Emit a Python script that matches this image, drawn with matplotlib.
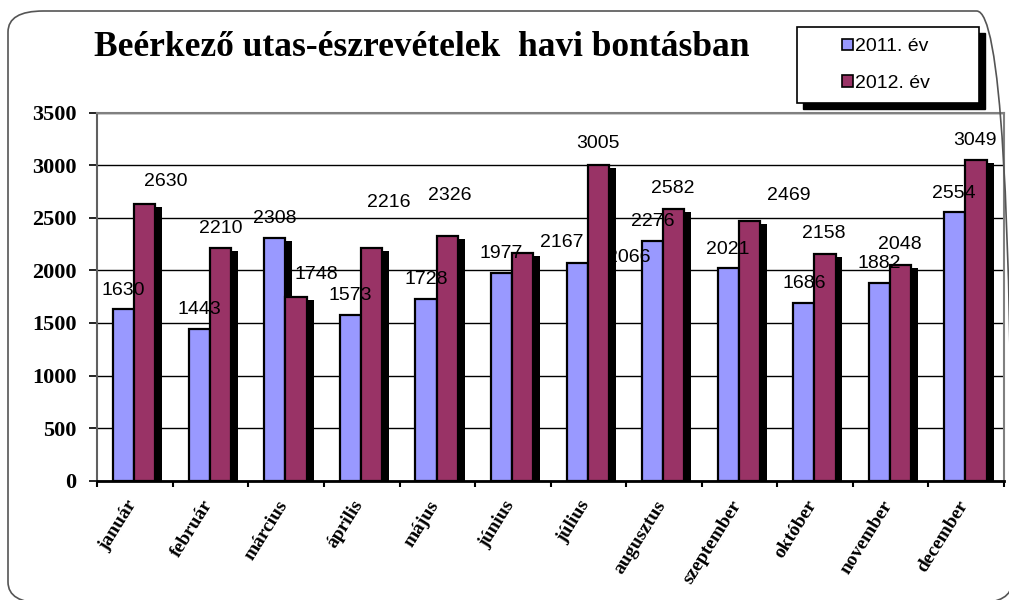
import matplotlib
matplotlib.use("Agg")
import matplotlib.pyplot as plt
import matplotlib.patheffects as pe
from matplotlib.patches import FancyBboxPatch, Rectangle
from matplotlib.transforms import ScaledTranslation
import numpy as np

# ---- data ----
months = ["január", "február", "március", "április", "május", "június",
          "július", "augusztus", "szeptember", "október", "november", "december"]
v2011 = [1630, 1443, 2308, 1573, 1728, 1977, 2066, 2276, 2021, 1686, 1882, 2554]
v2012 = [2630, 2210, 1748, 2216, 2326, 2167, 3005, 2582, 2469, 2158, 2048, 3049]
series_names = ["2011. év", "2012. év"]
title = "Beérkező utas-észrevételek  havi bontásban"
yticks = [0, 500, 1000, 1500, 2000, 2500, 3000, 3500]

# ---- label offsets (pixels, relative to bar top centre) ----
off2011 = [(0, 19), (0, 19), (0, 20), (0, 20), (0, 20), (0, 19),
           (52, 6), (0, 20), (0, 19), (0, 20), (0, 19), (-1, 19)]
off2012 = [(21, 23), (0, 20), (20, 22), (17, 45), (3, 41), (39, 10),
           (0, 21), (-1, 21), (39, 26), (-1, 20), (-1, 21), (-1, 20)]

c2011 = "#9999FF"
c2012 = "#993366"

W, H = 1009, 600
fig = plt.figure(figsize=(W / 100, H / 100), dpi=100)
fig.patch.set_facecolor("white")

# outer rounded frame
frame = FancyBboxPatch((8 / W, 1 - 603 / H), (1012 - 8) / W, (603 - 11) / H,
                       boxstyle="round,pad=0,rounding_size=0.035",
                       transform=fig.transFigure, facecolor="none",
                       edgecolor="#555555", linewidth=1.2, zorder=0)
fig.patches.append(frame)

ax = fig.add_axes([97.3 / W, 1 - 480.7 / H, (1004 - 97.3) / W, (480.7 - 112.7) / H])
ax.set_facecolor("white")

x = np.arange(len(months))
bw = 0.28
shadow = [pe.SimplePatchShadow(offset=(5, -2.2), shadow_rgbFace="black", alpha=1.0), pe.Normal()]
ax.bar(x - 0.15, v2011, width=bw, color=c2011, edgecolor="black", linewidth=1.6,
       zorder=3, path_effects=shadow)
ax.bar(x + 0.13, v2012, width=bw, color=c2012, edgecolor="black", linewidth=1.6,
       zorder=4, path_effects=shadow)

lab_font = dict(family="Liberation Sans", fontsize=14, color="black")
for xi, v, (dx, dy) in zip(x - 0.15, v2011, off2011):
    ax.annotate(str(v), (xi, v), xytext=(dx, dy), textcoords="offset pixels",
                ha="center", va="center", zorder=6, **lab_font)
for xi, v, (dx, dy) in zip(x + 0.13, v2012, off2012):
    ax.annotate(str(v), (xi, v), xytext=(dx, dy), textcoords="offset pixels",
                ha="center", va="center", zorder=6, **lab_font)

ax.set_xlim(-0.5, len(months) - 0.5)
ax.set_ylim(0, 3500)
ax.set_yticks(yticks)
ax.set_yticklabels([str(t) for t in yticks], family="Liberation Serif",
                   fontweight="bold", fontsize=16)
ax.tick_params(axis="y", direction="out", length=6, width=1.2, pad=9, color="black")
ax.yaxis.grid(True, color="black", linewidth=1)
ax.set_axisbelow(True)

ax.set_xticks(np.arange(-0.5, len(months), 1.0))
ax.set_xticklabels([])
ax.tick_params(axis="x", which="major", direction="out", length=4, width=1.5, color="black")
ax.set_xticks(x, minor=True)
ax.set_xticklabels(months, minor=True, rotation=58, ha="right", va="top",
                   family="Liberation Serif", fontweight="bold", fontsize=14)
ax.tick_params(axis="x", which="minor", length=0, pad=12)
for lbl in ax.get_xticklabels(minor=True):
    lbl.set_transform(lbl.get_transform() + ScaledTranslation(5 / 100, 0, fig.dpi_scale_trans))

for s in ["top", "right"]:
    ax.spines[s].set_color("#808080")
    ax.spines[s].set_linewidth(1.5)
ax.spines["left"].set_color("#606060")
ax.spines["left"].set_linewidth(1.5)
ax.spines["bottom"].set_color("black")
ax.spines["bottom"].set_linewidth(2)

# title
fig.text(422 / W, 1 - 47 / H, title, ha="center", va="center",
         family="Liberation Serif", fontweight="bold", fontsize=25.5)

# legend box with shadow
lx0, ly0, lx1, ly1 = 797, 27, 979, 103
fig.patches.append(Rectangle(((lx0 + 6) / W, 1 - (ly1 + 6) / H), (lx1 - lx0) / W, (ly1 - ly0) / H,
                             transform=fig.transFigure, facecolor="black", edgecolor="black", zorder=1))
fig.patches.append(Rectangle((lx0 / W, 1 - ly1 / H), (lx1 - lx0) / W, (ly1 - ly0) / H,
                             transform=fig.transFigure, facecolor="white", edgecolor="black",
                             linewidth=1.2, zorder=2))
handles = [Rectangle((0, 0), 1, 1, facecolor=c2011, edgecolor="black", linewidth=1.2),
           Rectangle((0, 0), 1, 1, facecolor=c2012, edgecolor="black", linewidth=1.2)]
leg = fig.legend(handles, series_names, loc="center",
                 bbox_to_anchor=((lx0 + lx1) / 2 / W - 0.002, 1 - (ly0 + ly1) / 2 / H),
                 frameon=False, prop=dict(family="Liberation Sans", size=14),
                 handlelength=0.55, handleheight=0.55, handletextpad=0.1, labelspacing=1.0)
leg.set_zorder(5)

fig.savefig("out.png", dpi=100, facecolor="white")
